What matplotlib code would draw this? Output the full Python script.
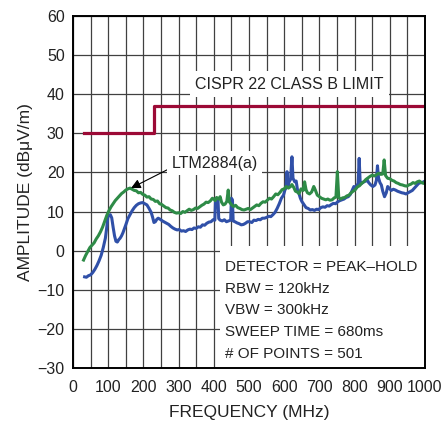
import numpy as np
import matplotlib.pyplot as plt
from matplotlib.patches import Rectangle

plt.rcParams['font.family'] = ['Liberation Sans', 'DejaVu Sans']

# limit line (CISPR 22 class B)
limit_f = [30, 230, 230, 1000]
limit_db = [30, 30, 37, 37]

# LTM2884(a) trace
green_f = [30, 36, 42, 48, 54, 60, 66, 72, 78, 84, 90, 96, 102, 108, 114, 120, 126, 132,
           138, 144, 150, 156, 162, 168, 174, 180, 186, 192, 198, 204, 210, 216, 222, 228,
           234, 240, 246, 252, 258, 264, 270, 276, 282, 288, 294, 300, 306, 312, 318, 324,
           330, 336, 342, 348, 354, 360, 366, 372, 378, 384, 390, 396, 400, 404, 408, 414,
           418, 422, 427, 432, 437, 441, 444, 450, 456, 462, 468, 474, 480, 486, 492, 498,
           504, 510, 516, 522, 528, 534, 540, 546, 552, 558, 564, 570, 576, 582, 588, 594,
           600, 606, 612, 618, 622, 627, 632, 637, 642, 648, 654, 658, 662, 666, 672, 678,
           684, 688, 694, 700, 706, 712, 718, 724, 730, 736, 742, 747, 751, 755, 760, 766,
           772, 778, 784, 790, 796, 802, 808, 814, 820, 826, 832, 838, 844, 850, 856, 862,
           868, 874, 880, 884, 888, 894, 900, 906, 912, 918, 924, 930, 936, 942, 948, 954,
           960, 966, 972, 978, 984, 990, 996, 1000]
green_db = [-2.4, -1.2, -0.2, 0.8, 1.4, 2.0, 3.0, 3.8, 4.8, 6.0, 7.5, 9.0, 10.2, 11.2,
            12.0, 12.8, 13.4, 14.0, 14.6, 15.0, 15.5, 15.8, 16.0, 15.7, 15.4, 15.3, 14.8,
            14.9, 14.4, 14.2, 13.7, 13.8, 13.2, 13.1, 12.6, 12.7, 12.0, 11.8, 11.4, 11.0,
            10.9, 10.4, 10.2, 9.8, 9.6, 9.7, 9.5, 10.0, 9.8, 10.2, 10.6, 10.3, 10.5, 10.9,
            10.8, 11.2, 11.6, 11.9, 12.4, 12.3, 12.7, 13.4, 13.2, 12.8, 13.6, 13.2, 13.8,
            12.4, 11.7, 11.9, 12.6, 15.5, 12.5, 11.8, 11.3, 11.6, 11.0, 10.8, 10.5, 10.4,
            10.6, 10.8, 10.5, 10.9, 11.3, 11.7, 11.5, 12.1, 12.5, 12.4, 12.9, 13.4, 13.2,
            13.8, 14.5, 14.3, 14.9, 15.6, 15.8, 16.4, 16.0, 16.4, 16.9, 16.2, 15.2, 15.0,
            14.6, 15.8, 15.4, 17.6, 15.6, 14.8, 14.5, 15.0, 16.4, 15.6, 14.2, 13.8, 13.4,
            13.2, 13.0, 13.2, 12.9, 13.0, 13.5, 13.7, 20.2, 13.6, 13.2, 13.5, 13.6, 14.0,
            14.2, 14.8, 15.2, 15.6, 16.3, 16.6, 17.2, 17.6, 18.2, 18.6, 19.0, 19.3, 19.1,
            19.4, 19.8, 19.5, 19.6, 23.2, 19.2, 18.5, 18.4, 18.0, 17.8, 17.4, 17.2, 16.9,
            16.8, 16.6, 16.5, 16.8, 17.0, 17.4, 17.2, 17.6, 17.8, 17.4, 17.2, 17.5]

# second trace
blue_f = [33, 38, 44, 50, 56, 62, 68, 74, 80, 86, 92, 96, 99, 102, 106, 110, 114, 118,
          122, 126, 130, 134, 138, 142, 146, 150, 156, 162, 168, 174, 180, 186, 192, 198,
          204, 210, 216, 222, 226, 230, 234, 238, 242, 248, 254, 260, 266, 272, 278, 284,
          290, 296, 302, 308, 314, 320, 326, 332, 338, 344, 350, 356, 362, 368, 374, 380,
          386, 392, 398, 403, 405, 409, 412, 414, 418, 424, 430, 436, 442, 448, 450, 453,
          455, 460, 466, 472, 478, 484, 490, 496, 502, 508, 514, 520, 526, 532, 538, 544,
          550, 556, 562, 568, 574, 580, 586, 592, 598, 602, 605, 608, 611, 614, 618, 622,
          625, 630, 634, 638, 642, 646, 650, 656, 662, 668, 674, 680, 686, 692, 698, 704,
          710, 716, 722, 728, 734, 740, 746, 752, 758, 764, 770, 776, 782, 788, 794, 798,
          802, 806, 810, 813, 816, 820, 826, 832, 836, 840, 846, 852, 858, 862, 865, 868,
          872, 876, 880, 885, 890, 894, 898, 904, 910, 916, 922, 928, 934, 940, 946, 952,
          958, 964, 970, 976, 982, 988, 994, 1000]
blue_db = [-6.7, -6.8, -6.4, -6.2, -5.6, -4.8, -3.8, -2.6, -1.2, 0.8, 3.2, 6.0, 8.6, 9.0,
           9.2, 8.4, 6.0, 3.8, 2.4, 2.2, 2.8, 3.2, 3.8, 4.6, 5.6, 6.6, 8.2, 9.2, 10.2, 11.0,
           11.6, 12.0, 12.2, 12.3, 12.0, 11.7, 10.8, 9.8, 8.6, 7.2, 7.4, 8.0, 8.3, 8.0, 7.6,
           7.3, 7.0, 6.7, 6.2, 5.8, 5.5, 5.3, 5.4, 5.0, 5.1, 4.9, 5.3, 5.5, 5.4, 5.8, 5.7,
           6.1, 6.0, 6.6, 6.5, 7.0, 7.3, 7.4, 7.9, 7.8, 13.0, 12.8, 13.0, 8.2, 7.8, 7.6, 7.9,
           7.4, 7.6, 7.8, 13.4, 13.0, 7.6, 7.4, 7.1, 6.9, 6.6, 6.7, 7.0, 7.4, 7.4, 7.2, 7.8,
           7.7, 8.0, 7.9, 8.3, 8.3, 8.5, 8.8, 8.7, 9.2, 9.8, 10.8, 12.0, 13.4, 14.2, 15.5,
           16.0, 20.2, 16.5, 17.6, 18.2, 24.0, 18.5, 17.6, 17.8, 15.4, 14.6, 13.4, 12.6,
           11.8, 11.0, 10.8, 10.4, 10.5, 10.3, 10.6, 10.5, 11.0, 11.2, 11.1, 11.5, 11.4,
           11.8, 12.1, 12.0, 12.5, 12.8, 13.0, 13.2, 13.6, 13.8, 14.4, 15.6, 16.4, 16.0,
           16.6, 17.2, 23.6, 17.0, 17.2, 17.6, 17.8, 18.1, 17.4, 16.8, 16.4, 16.8, 18.0,
           21.7, 18.6, 17.4, 16.8, 15.2, 13.8, 14.8, 16.4, 16.0, 15.4, 15.7, 15.5, 15.2,
           15.0, 14.8, 14.7, 14.5, 14.8, 15.1, 15.4, 16.0, 16.6, 17.2, 17.4, 17.5, 17.8]

info_lines = ['DETECTOR = PEAK\u2013HOLD', 'RBW = 120kHz', 'VBW = 300kHz',
              'SWEEP TIME = 680ms', '# OF POINTS = 501']

fig = plt.figure(figsize=(4.44, 4.26), dpi=100)
ax = fig.add_axes([0.1644, 0.1362, 0.7928, 0.8262])

ax.plot(limit_f, limit_db, color='#9c0a36', lw=2.3, zorder=2)
ax.plot(blue_f, blue_db, color='#3050a8', lw=2.2, zorder=2)
ax.plot(green_f, green_db, color='#2e8b47', lw=2.2, zorder=2)

ax.set_xlim(0, 1000)
ax.set_ylim(-30, 60)
ax.set_xticks(np.arange(0, 1001, 100))
ax.set_xticks(np.arange(0, 1001, 50), minor=True)
ax.set_yticks(np.arange(-30, 61, 10))
ax.grid(True, which='both', color='#404040', lw=0.9)
ax.set_axisbelow(True)
ax.tick_params(which='both', length=0, labelsize=11.5, colors='#222222')
ax.tick_params(axis='x', pad=8.5)
ax.tick_params(axis='y', pad=6)
for s in ax.spines.values():
    s.set_linewidth(1.4)

ax.set_xlabel('FREQUENCY (MHz)', fontsize=12.5, color='#222222', labelpad=7)
ax.set_ylabel('AMPLITUDE (dB\u03bcV/m)', fontsize=12.5, color='#222222', labelpad=3)

# white panel behind the measurement settings
ax.add_patch(Rectangle((0.4176, 0), 0.5824, 0.3466, transform=ax.transAxes,
                       facecolor='white', edgecolor='none', zorder=1))

ax.text(347, 42.6, 'CISPR 22 CLASS B LIMIT', fontsize=11.5, color='#222222',
        ha='left', va='center', zorder=3,
        bbox=dict(facecolor='white', edgecolor='none', pad=4))

ax.annotate('LTM2884(a)', xy=(165, 16), xytext=(280, 22.4), fontsize=11.5,
            color='#222222', ha='left', va='center', zorder=3,
            bbox=dict(facecolor='white', edgecolor='none', pad=3),
            arrowprops=dict(arrowstyle='-|>', color='black', lw=0.8,
                            mutation_scale=14, relpos=(0, 0.2), shrinkA=0, shrinkB=0))

ax.text(432, -2.3, '\n'.join(info_lines), fontsize=11, color='#222222',
        ha='left', va='top', linespacing=1.72, zorder=3)

fig.savefig('out.png', dpi=100)
